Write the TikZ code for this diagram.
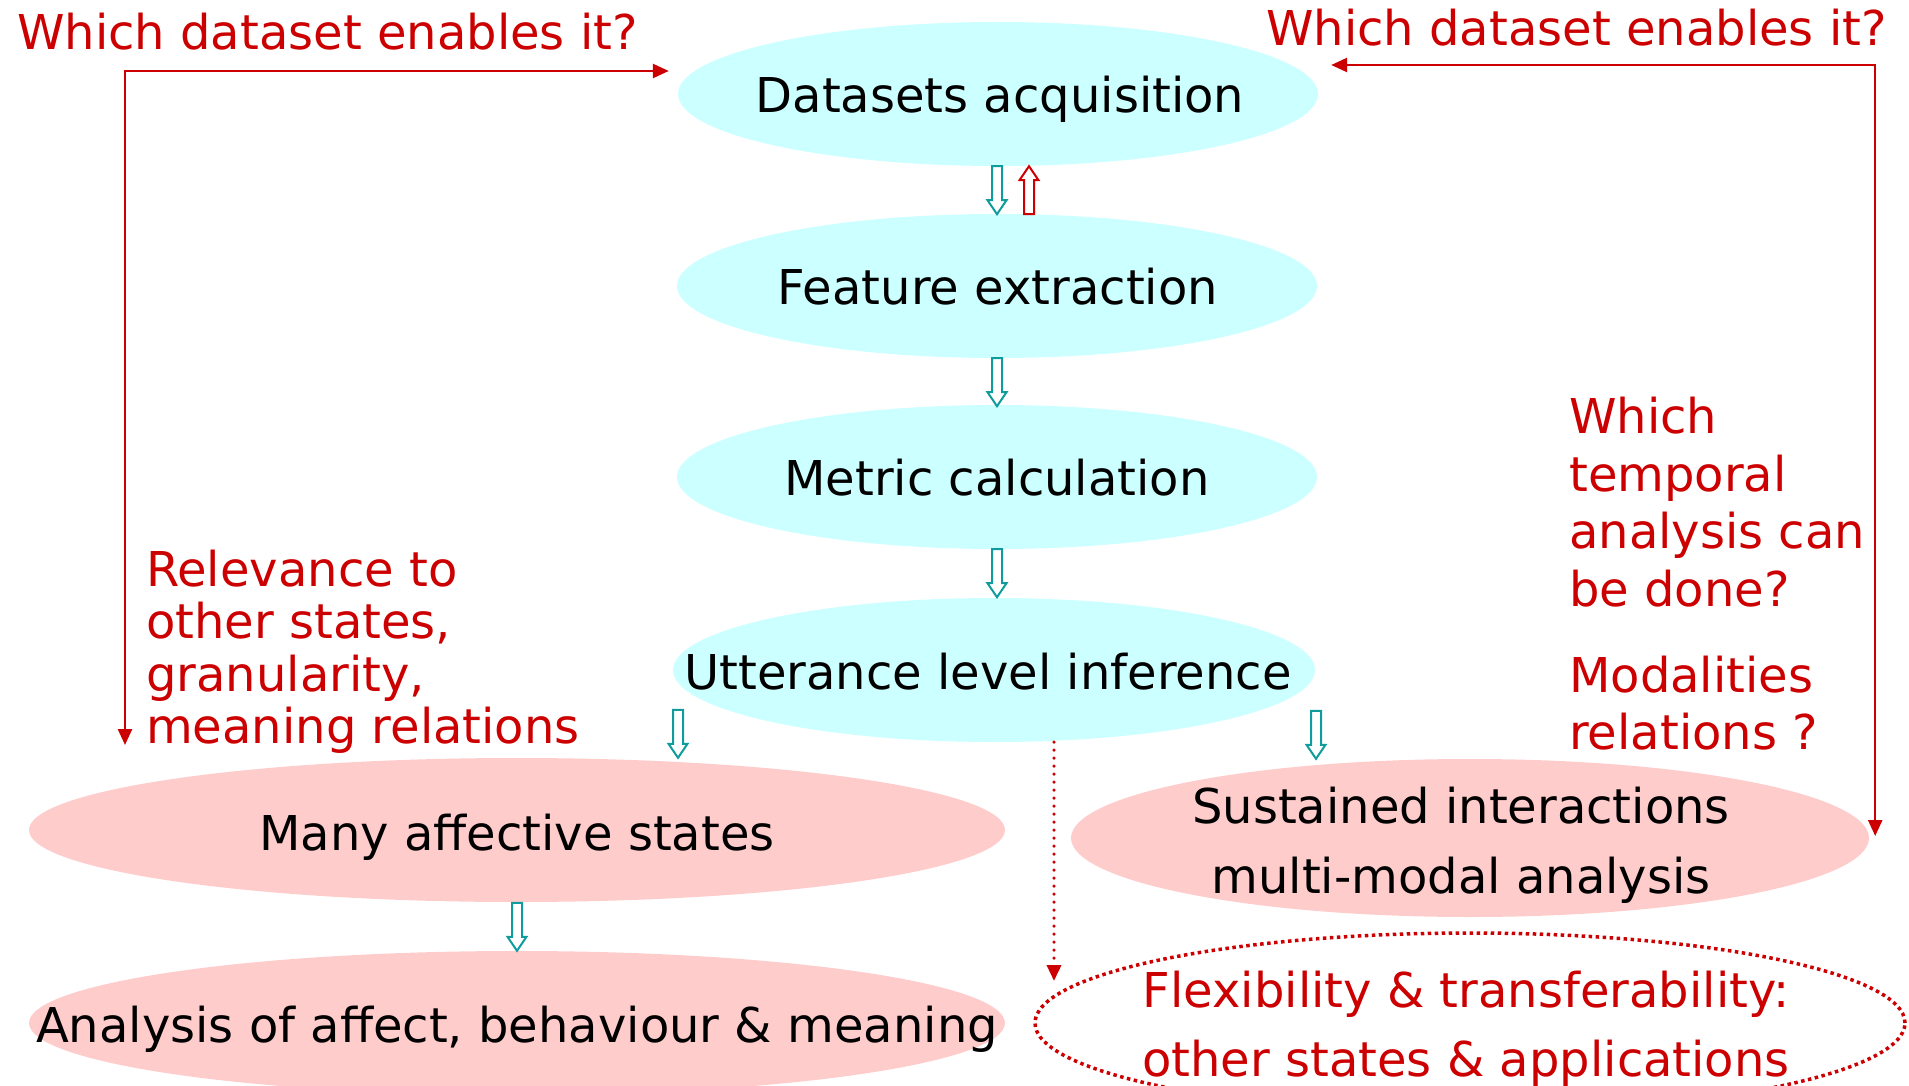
\documentclass[tikz,border=0pt]{standalone}
\usepackage{fontspec}
\setmainfont{DejaVu Sans}
\usetikzlibrary{shapes.geometric,arrows.meta,calc}
\definecolor{cyanfill}{HTML}{CCFFFF}
\definecolor{pinkfill}{HTML}{FFCCCC}
\definecolor{redtxt}{HTML}{CC0000}
\definecolor{tealarrow}{HTML}{109C9C}
\begin{document}
\begin{tikzpicture}[x=1pt,y=-1pt,
  font=\fontsize{48}{56}\selectfont,
  every node/.style={inner sep=0},
  cyanell/.style={ellipse, fill=cyanfill, minimum width=640, minimum height=144},
  pinkell/.style={ellipse, fill=pinkfill, minimum width=976, minimum height=144},
  one/.style={text height=35, text depth=0},
  redtext/.style={text=redtxt},
  redline/.style={draw=redtxt, line width=2.5, {Triangle[length=16,width=14]}-{Triangle[length=16,width=14]}},
  hdown/.pic={\draw[line width=2] (-5,0) -- (5,0) -- (5,34) -- (9.5,34) -- (0,48) -- (-9.5,34) -- (-5,34) -- cycle;},
  hup/.pic={\draw[line width=2] (-5,48) -- (5,48) -- (5,14) -- (9.5,14) -- (0,0) -- (-9.5,14) -- (-5,14) -- cycle;}
]
\useasboundingbox (0,0) rectangle (1909,1086);
\clip (0,0) rectangle (1909,1086);

% ellipses
\node[cyanell] (a1) at (998,94) {};
\node[cyanell] (a2) at (997,286) {};
\node[cyanell] (a3) at (997,477) {};
\node[cyanell, minimum width=642] (a4) at (994,670) {};
\node[pinkell] (many) at (517,830) {};
\node[pinkell] (an) at (517,1023) {};
\node[ellipse, fill=pinkfill, minimum width=798, minimum height=158] (sust) at (1470,838) {};
\node[ellipse, draw=redtxt, line width=3.5, dash pattern=on 3.5 off 3.5, minimum width=870, minimum height=180] (flex) at (1470,1023) {};

% texts in ellipses
\node[one] (t1) at (1000,95) {Datasets acquisition};
\node[one] (t2) at (998,287) {Feature extraction};
\node[one] (t3) at (997,478) {Metric calculation};
\node[one] (t4) at (988,672) {Utterance level inference};
\node[one] (t5) at (517,833) {Many affective states};
\node[one] (t6) at (517,1025) {Analysis of affect, behaviour \& meaning};
\node[align=center, font=\fontsize{48}{70}\selectfont] (t7) at (1461,845) {Sustained interactions\\multi-modal analysis};
\node[align=center, redtext, font=\fontsize{48}{69}\selectfont] (t8) at (1466,1029) {Flexibility \& transferability:\\other states \& applications};

% red annotations
\node[redtext, anchor=base west] (q1) at (17,50) {Which dataset enables it?};
\node[redtext, anchor=base west] (q2) at (1266,46) {Which dataset enables it?};
\node[redtext, anchor=west, align=left, font=\fontsize{48}{52.5}\selectfont] (q3) at (146,652) {Relevance to\\other states,\\granularity,\\meaning relations};
\node[redtext, anchor=west, align=left, font=\fontsize{48}{57.5}\selectfont] (q4) at (1569,502) {Which\\temporal\\analysis can\\be done?};
\node[redtext, anchor=west, align=left, font=\fontsize{48}{57.5}\selectfont] (q5) at (1569,703) {Modalities\\relations ?};

% hollow block arrows
\pic[color=tealarrow] at ($(a1.south)+(-1,0)$) {hdown};
\pic[color=redtxt] at ($(a1.south)+(31,0)$) {hup};
\pic[color=tealarrow] at (a2.south) {hdown};
\pic[color=tealarrow] at (a3.south) {hdown};
\pic[color=tealarrow] at ($(many.north)+(161,-48)$) {hdown};
\pic[color=tealarrow] at ($(sust.north)+(-154,-48)$) {hdown};
\pic[color=tealarrow] at ($(an.north)+(0,-48)$) {hdown};

% red connectors
\coordinate (L1) at (125,745);
\coordinate (L2) at ($(a1.west)+(-9,-23)$);
\draw[redline] (L1) |- (L2);
\coordinate (R1) at ($(a1.east)+(13,-29)$);
\coordinate (R2) at ($(sust.east)+(6,-2)$);
\draw[redline] (R1) -| (R2);

\coordinate (D1) at ($(a4.south)+(60,0)$);
\coordinate (D2) at (1054,981);
\draw[draw=redtxt, line width=3.5, line cap=round, dash pattern=on 0 off 8, -{Triangle[length=16,width=14]}] (D1) -- (D2);
\end{tikzpicture}
\end{document}
